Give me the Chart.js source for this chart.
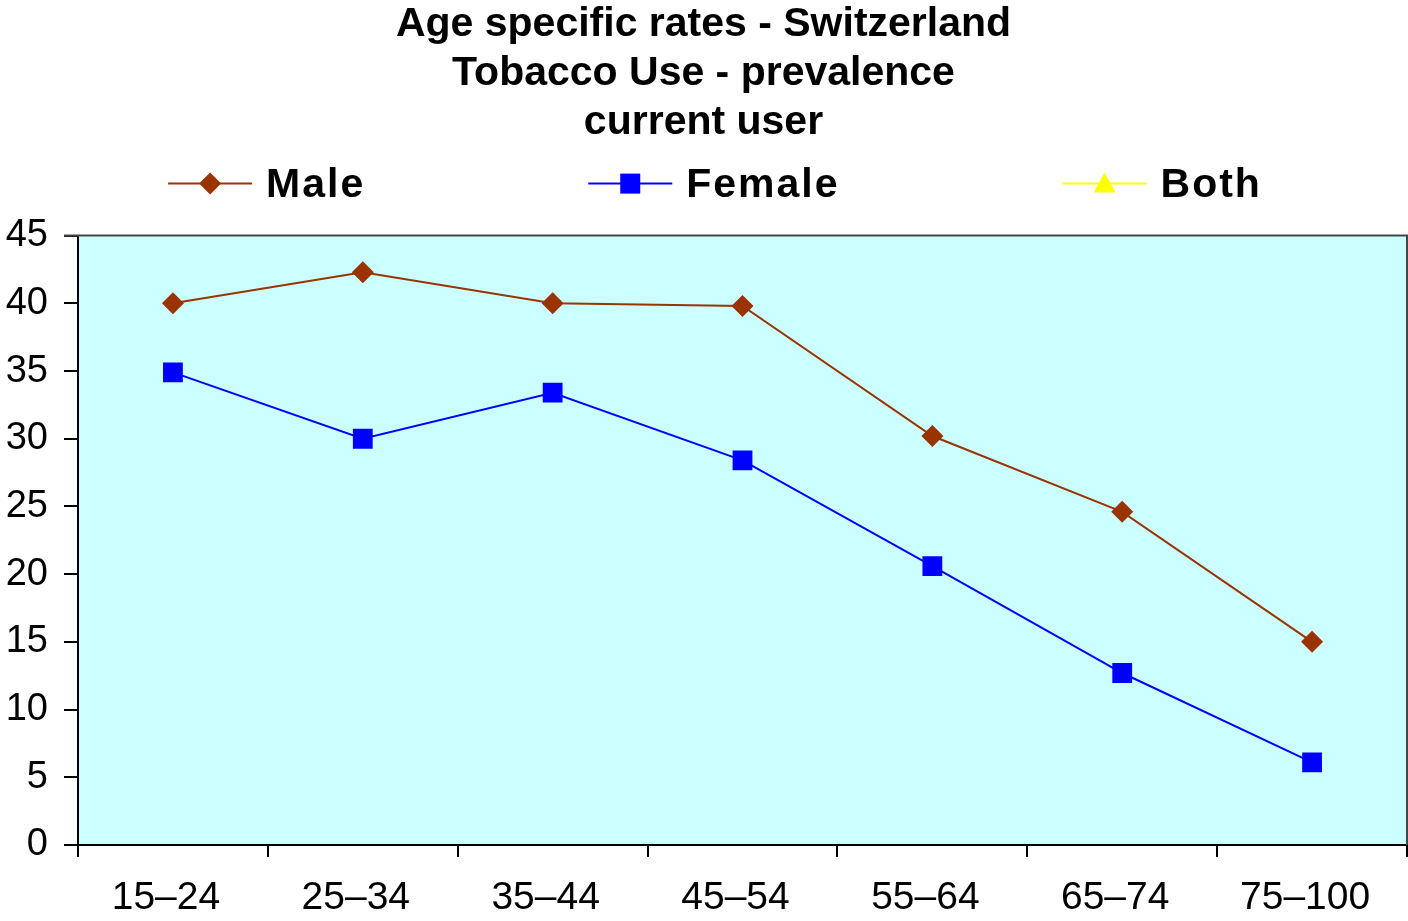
<!DOCTYPE html>
<html>
<head>
<meta charset="utf-8">
<script src="https://cdn.jsdelivr.net/npm/chart.js@4.4.1/dist/chart.umd.min.js"></script>
<style>
  html, body { margin: 0; padding: 0; background: #ffffff; }
  #wrap { width: 1408px; height: 921px; position: relative; }
</style>
</head>
<body>
<div id="wrap"><canvas id="c" width="1408" height="921"></canvas></div>
<script>
const categories = ['15\u201324', '25\u201334', '35\u201344', '45\u201354', '55\u201364', '65\u201374', '75\u2013100'];
const maleValues = [40.0, 42.3, 40.0, 39.8, 30.2, 24.6, 15.0];
const femaleValues = [34.9, 30.0, 33.4, 28.4, 20.6, 12.7, 6.1];
const bothValues = [];
const titleLines = ['Age specific rates - Switzerland', 'Tobacco Use - prevalence', 'current user'];
const seriesNames = ['Male', 'Female', 'Both'];
const seriesColors = ['#993300', '#0000FF', '#FFFF00'];
const seriesShapes = ['diamond', 'square', 'triangle'];

const FONT = "'Liberation Sans', Arial, sans-serif";

function drawIcon(g, cx, cy, color, shape) {
  g.save();
  g.strokeStyle = color; g.lineWidth = 2;
  g.beginPath(); g.moveTo(cx - 42, cy); g.lineTo(cx + 42, cy); g.stroke();
  g.fillStyle = color;
  g.beginPath();
  if (shape === 'diamond') {
    g.moveTo(cx, cy - 11); g.lineTo(cx + 11, cy); g.lineTo(cx, cy + 11); g.lineTo(cx - 11, cy); g.closePath();
  } else if (shape === 'square') {
    g.rect(cx - 10, cy - 10, 20, 20);
  } else {
    g.moveTo(cx, cy - 11); g.lineTo(cx + 11, cy + 9); g.lineTo(cx - 11, cy + 9); g.closePath();
  }
  g.fill();
  g.restore();
}

const customLegend = {
  id: 'customLegend',
  afterDraw(chart) {
    const ctx = chart.ctx;
    const fontSize = 41;
    const gap = 223;
    const iconW = 84, iconGap = 14;
    ctx.save();
    ctx.font = 'bold ' + fontSize + 'px ' + FONT;
    if ('letterSpacing' in ctx) ctx.letterSpacing = '2px';
    const widths = chart.data.datasets.map(ds => iconW + iconGap + ctx.measureText(ds.label).width);
    const total = widths.reduce((a, b) => a + b, 0) + gap * (widths.length - 1);
    let x = (chart.width + 22 - total) / 2;
    const y = chart.chartArea.top - 52;
    chart.data.datasets.forEach((ds, i) => {
      drawIcon(ctx, x + iconW / 2, y, seriesColors[i], seriesShapes[i]);
      ctx.fillStyle = '#000000';
      ctx.textBaseline = 'middle';
      ctx.textAlign = 'left';
      ctx.fillText(ds.label, x + iconW + iconGap, y + 2);
      x += widths[i] + gap;
    });
    ctx.restore();
  }
};

const plotFrame = {
  id: 'plotFrame',
  beforeDraw(chart) {
    const a = chart.chartArea, ctx = chart.ctx;
    ctx.save();
    ctx.fillStyle = '#CCFFFF';
    ctx.fillRect(a.left, a.top, a.right - a.left, a.bottom - a.top);
    ctx.restore();
  },
  afterDraw(chart) {
    const a = chart.chartArea, ctx = chart.ctx;
    ctx.save();
    ctx.strokeStyle = '#444444';
    ctx.lineWidth = 2;
    ctx.beginPath();
    ctx.moveTo(a.left - 14, a.top); ctx.lineTo(a.right, a.top); ctx.lineTo(a.right, a.bottom);
    ctx.stroke();
    ctx.restore();
  }
};

new Chart(document.getElementById('c'), {
  type: 'line',
  data: {
    labels: categories,
    datasets: [
      { label: seriesNames[0], data: maleValues, borderColor: seriesColors[0], backgroundColor: seriesColors[0],
        borderWidth: 2, pointStyle: 'rectRot', pointRadius: 11, pointBorderWidth: 0, tension: 0 },
      { label: seriesNames[1], data: femaleValues, borderColor: seriesColors[1], backgroundColor: seriesColors[1],
        borderWidth: 2, pointStyle: 'rect', pointRadius: 14, pointBorderWidth: 0, tension: 0 },
      { label: seriesNames[2], data: bothValues, borderColor: seriesColors[2], backgroundColor: seriesColors[2],
        borderWidth: 2, pointStyle: 'triangle', pointRadius: 10, tension: 0 }
    ]
  },
  options: {
    responsive: false,
    animation: false,
    layout: { autoPadding: false, padding: { left: 0, right: 1, top: 0, bottom: 0 } },
    plugins: {
      tooltip: { enabled: false },
      legend: { display: false },
      title: {
        display: true,
        text: titleLines,
        color: '#000000',
        font: { family: FONT, size: 41, weight: 'bold', lineHeight: 1.2 },
        padding: { top: 0, bottom: 88 }
      }
    },
    scales: {
      x: {
        offset: true,
        grid: { display: true, offset: true, drawOnChartArea: false, drawTicks: true, tickLength: 12, color: '#000000', lineWidth: 2 },
        border: { display: true, color: '#000000', width: 2 },
        ticks: { color: '#000000', font: { family: FONT, size: 39 }, padding: 18, labelOffset: -7, maxRotation: 0, autoSkip: false },
        afterFit(s) { s.height = 76; s.paddingLeft = 0; s.paddingRight = 0; }
      },
      y: {
        min: 0, max: 45,
        grid: { display: true, drawOnChartArea: false, drawTicks: true, tickLength: 14, color: '#000000', lineWidth: 2 },
        border: { display: true, color: '#000000', width: 2 },
        ticks: { stepSize: 5, autoSkip: false, color: '#000000', font: { family: FONT, size: 38 }, padding: 16 },
        afterFit(s) { s.width = 78; }
      }
    }
  },
  plugins: [plotFrame, customLegend]
});
</script>
</body>
</html>
